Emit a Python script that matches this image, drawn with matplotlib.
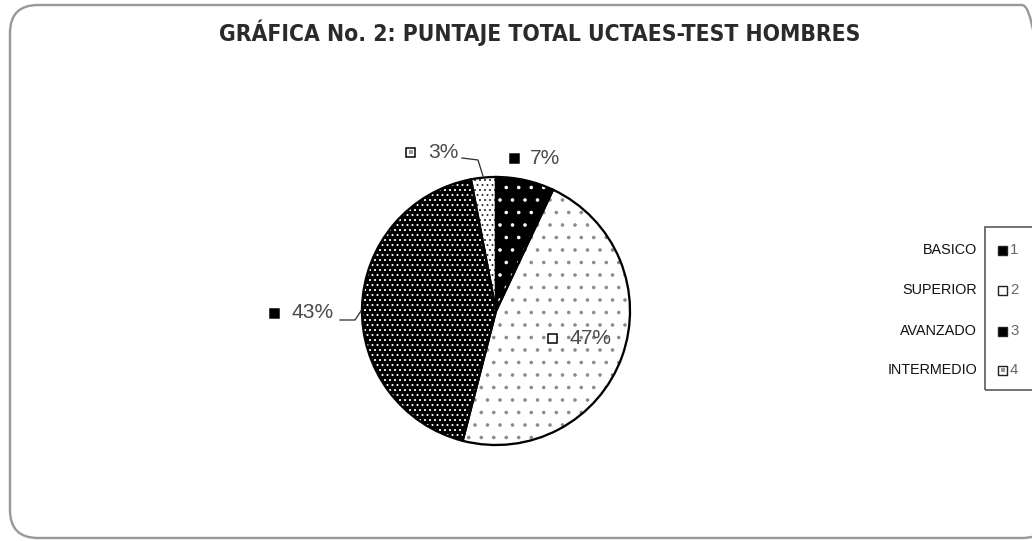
import matplotlib
matplotlib.use('Agg')
import matplotlib.pyplot as plt
from matplotlib.patches import Rectangle, FancyBboxPatch

categories = ['BASICO', 'SUPERIOR', 'AVANZADO', 'INTERMEDIO']
codes = ['1', '2', '3', '4']
values = [7, 47, 43, 3]
pct_labels = ['7%', '47%', '43%', '3%']
title = 'GRÁFICA No. 2: PUNTAJE TOTAL UCTAES-TEST HOMBRES'

W, H = 1032, 541
DPI = 150
PT = 72.0 / DPI  # points per pixel

plt.rcParams['hatch.linewidth'] = 0.5
fig = plt.figure(figsize=(W / DPI, H / DPI), dpi=DPI)
ax = fig.add_axes([0, 0, 1, 1])


def Y(y):
    return H - y


cx, cy, R = 496, Y(311), 134
face = ['black', 'white', 'black', 'white']
hatch_col = ['white', '#8a8a8a', 'white', '#333333']
hatches = ['..', '..', '.....', '.....']

wedges, _ = ax.pie(values, startangle=90, counterclock=False,
                   center=(cx, cy), radius=R)
for w, fc, hc, h in zip(wedges, face, hatch_col, hatches):
    w.set_facecolor(fc)
    w.set_edgecolor(hc)
    w.set_hatch(h)
    w.set_linewidth(0)

ax.pie(values, startangle=90, counterclock=False, center=(cx, cy), radius=R,
       wedgeprops=dict(fill=False, edgecolor='black', linewidth=1.1))

ax.set_xlim(0, W)
ax.set_ylim(0, H)
ax.set_aspect('auto')
ax.axis('off')

# outer rounded border
border = FancyBboxPatch((10, Y(538)), 1040, 533,
                        boxstyle='round,pad=0,rounding_size=28',
                        fill=False, edgecolor='#9a9a9a', linewidth=2.4 * PT,
                        transform=ax.transData, clip_on=False)
ax.add_patch(border)

# title
ax.text(540, Y(33), title, ha='center', va='center',
        fontsize=22.8 * PT, fontweight='bold', color='#2a2a2a',
        family='DejaVu Sans', fontstretch='condensed')

# data labels: (square x, text x, y)
lab_pos = {
    0: (510, 530, 158),
    1: (548, 570, 338),
    2: (270, 292, 313),
    3: (406, 428, 152),
}
sq_face = ['black', 'white', 'black', 'white']
for i, (sx, tx, ty) in lab_pos.items():
    ax.add_patch(Rectangle((sx, Y(ty) - 4.5), 9, 9, facecolor=sq_face[i],
                           edgecolor='black', linewidth=1.5 * PT))
    if i == 3:
        ax.add_patch(Rectangle((sx + 2.5, Y(ty) - 2), 4, 4, facecolor='#999999',
                               edgecolor='none'))
    ax.text(tx, Y(ty), pct_labels[i], ha='left', va='center',
            fontsize=21 * PT, color='#4a4a4a', family='Liberation Sans')

# leader lines
ax.plot([462, 478, 483], [Y(158), Y(160), Y(176)], color='#333333', lw=1.3 * PT)
ax.plot([340, 355, 361], [Y(320), Y(320), Y(311)], color='#333333', lw=1.3 * PT)

# legend
ax.add_patch(Rectangle((985, Y(390)), 60, 163, fill=False,
                       edgecolor='#666666', linewidth=1.8 * PT, clip_on=False))
leg_y = [250, 290, 331, 370]
for i, (cat, code, ly) in enumerate(zip(categories, codes, leg_y)):
    ax.text(977, Y(ly), cat, ha='right', va='center',
            fontsize=14.4 * PT, color='#111111', family='Liberation Sans')
    ax.add_patch(Rectangle((998, Y(ly) - 4.5), 9, 9, facecolor=sq_face[i],
                           edgecolor='#222222', linewidth=1.4 * PT))
    if i == 3:
        ax.add_patch(Rectangle((1000.5, Y(ly) - 2), 4, 4, facecolor='#999999',
                               edgecolor='none'))
    ax.text(1010, Y(ly), code, ha='left', va='center',
            fontsize=15 * PT, color='#666666', family='Liberation Sans')

fig.savefig('out.png', dpi=DPI)
